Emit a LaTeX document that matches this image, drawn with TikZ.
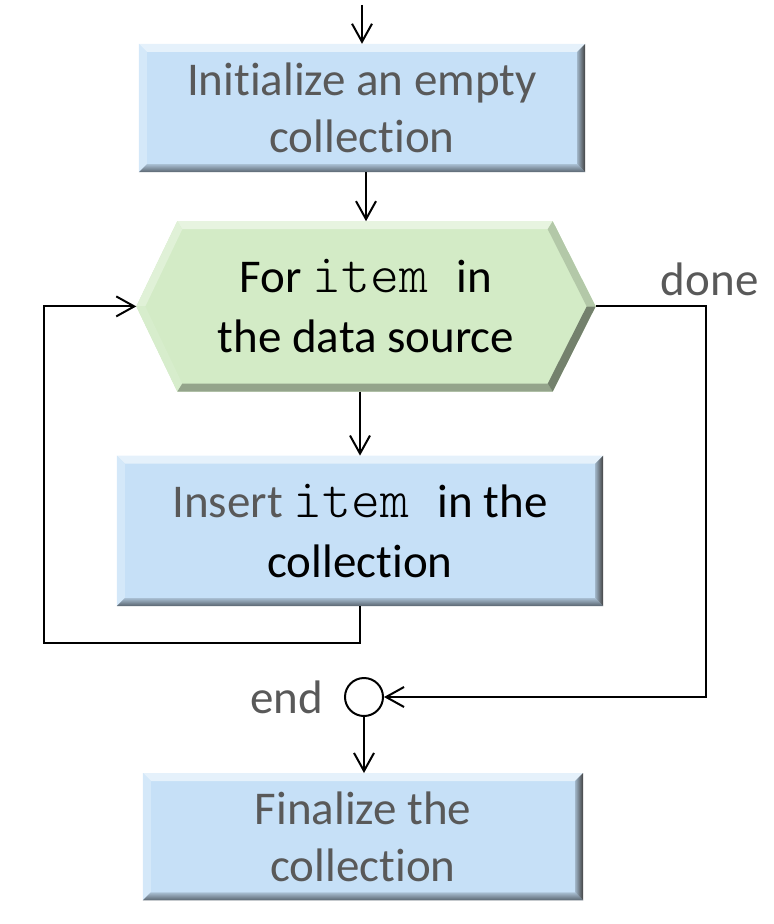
\documentclass[tikz,border=0pt]{standalone}
\usepackage{fontspec}
\setmainfont{Carlito}[RawFeature={-liga;-clig;-calt;-dlig;-rlig}]
\newfontfamily\codefont{Latin Modern Mono Light}
\definecolor{BoxBlue}{RGB}{198,224,247}
\definecolor{LoopGreen}{RGB}{211,235,198}
\definecolor{TextGray}{RGB}{89,89,89}
\usetikzlibrary{arrows.meta, positioning, calc, backgrounds}

\newcommand\mono[1]{{\fontsize{55}{60}\selectfont\codefont #1}}
\newcommand\bevelbox[1]{%
  \fill[BoxBlue!45!white] (#1.north west) -- (#1.north east)
    -- ([shift={(-8pt,-8pt)}]#1.north east) -- ([shift={(8pt,-8pt)}]#1.north west) -- cycle;
  \fill[BoxBlue!75!white] (#1.north west) -- ([shift={(8pt,-8pt)}]#1.north west)
    -- ([shift={(8pt,8pt)}]#1.south west) -- (#1.south west) -- cycle;
  \shade[top color=BoxBlue!85!black, bottom color=BoxBlue!45!black]
    (#1.south west) -- ([shift={(8pt,8pt)}]#1.south west)
    -- ([shift={(-8pt,8pt)}]#1.south east) -- (#1.south east) -- cycle;
  \shade[left color=BoxBlue!80!black, right color=black!75]
    (#1.north east) -- (#1.south east)
    -- ([shift={(-8pt,8pt)}]#1.south east) -- ([shift={(-8pt,-8pt)}]#1.north east) -- cycle;
}

\begin{document}
\begin{tikzpicture}[
    font=\fontsize{47}{57}\selectfont,
    box/.style={rectangle, fill=BoxBlue, text=TextGray, align=center, inner sep=0pt},
    loopbox/.style={rectangle, align=center, inner sep=0pt,
                    minimum width=459pt, minimum height=170pt},
    stopcirc/.style={circle, draw, line width=2pt, minimum size=38pt, inner sep=0pt},
    lbl/.style={text=TextGray, inner sep=0pt},
    arr/.style={-{Straight Barb[length=18pt,width=20pt]}, line width=2pt}
  ]
    \useasboundingbox (0pt,0pt) rectangle (774pt,-924pt);

    \node[box, minimum width=446pt, minimum height=128pt] (init) at (362pt,-108pt)
      {Initialize an empty\\collection};
    \coordinate[above=39pt of init] (start);
    \node[loopbox, below=49pt of init, xshift=4pt, font=\fontsize{47}{60}\selectfont] (loop)
      {For \mono{item }in\\the data source};
    \node[box, text=black, minimum width=486pt, minimum height=150pt,
          below=64pt of loop, xshift=-6pt, font=\fontsize{47}{60}\selectfont] (insert)
      {{\color{TextGray}Insert} \mono{item }in the\\collection};
    \node[stopcirc, below=71pt of insert, xshift=4pt] (stop) {};
    \node[lbl, left=21pt of stop] (endlbl) {end};
    \node[box, minimum width=440pt, minimum height=127pt, below=56pt of stop, xshift=-1pt] (final)
      {Finalize the\\collection};
    \node[lbl, anchor=base] (donelbl) at ([shift={(114pt,11pt)}]loop.east) {done};

    \bevelbox{init} \bevelbox{insert} \bevelbox{final}

    % hexagon behind the loop text
    \begin{scope}[on background layer]
      \coordinate (hW) at (loop.west);
      \coordinate (hNW) at ([xshift=41pt]loop.north west);
      \coordinate (hNE) at ([xshift=-43pt]loop.north east);
      \coordinate (hE) at (loop.east);
      \coordinate (hSE) at ([xshift=-43pt]loop.south east);
      \coordinate (hSW) at ([xshift=41pt]loop.south west);
      \fill[LoopGreen] (hW) -- (hNW) -- (hNE) -- (hE) -- (hSE) -- (hSW) -- cycle;
      \fill[LoopGreen!55!white] (hNW) -- (hNE) -- ([shift={(-5pt,-8pt)}]hNE) -- ([shift={(5pt,-8pt)}]hNW) -- cycle;
      \fill[LoopGreen!70!white] (hW) -- (hNW) -- ([shift={(5pt,-8pt)}]hNW) -- ([xshift=9pt]hW) -- cycle;
      \fill[LoopGreen!90!white] (hW) -- (hSW) -- ([shift={(5pt,8pt)}]hSW) -- ([xshift=9pt]hW) -- cycle;
      \fill[LoopGreen!70!black] (hSW) -- (hSE) -- ([shift={(-5pt,8pt)}]hSE) -- ([shift={(5pt,8pt)}]hSW) -- cycle;
      \fill[LoopGreen!55!black] (hE) -- (hSE) -- ([shift={(-5pt,8pt)}]hSE) -- ([xshift=-9pt]hE) -- cycle;
      \fill[LoopGreen!85!black] (hE) -- (hNE) -- ([shift={(-5pt,-8pt)}]hNE) -- ([xshift=-9pt]hE) -- cycle;
    \end{scope}

    \draw[arr] (start) -- (init);
    \draw[arr] (loop.north |- init.south) -- (loop.north);
    \draw[arr] (insert.north |- loop.south) -- (insert.north);
    \draw[arr] (insert.south) -- ++(0,-37pt) -| ([xshift=-92pt]loop.west) -- (loop.west);
    \draw[arr] (loop.east) -- ++(110pt,0) |- (stop.east);
    \draw[arr] (stop.south) -- (stop.south |- final.north);
  \end{tikzpicture}
\end{document}
